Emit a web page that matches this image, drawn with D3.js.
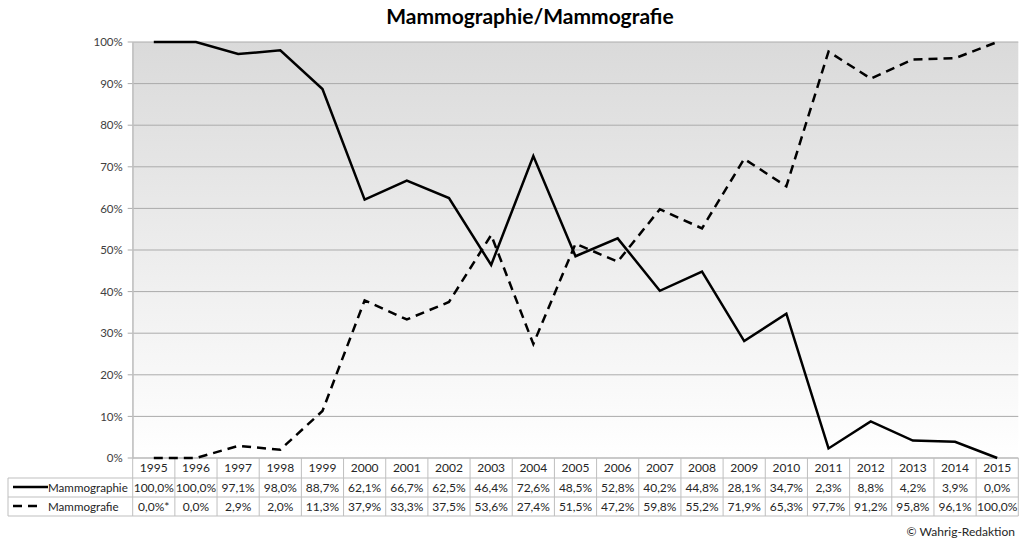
<!DOCTYPE html>
<html><head><meta charset="utf-8">
<script src="https://cdn.jsdelivr.net/npm/d3@7"></script>
<style>
body{margin:0;background:#fff;}
svg{display:block;font-family:Lato,"Open Sans",sans-serif;}
</style></head>
<body><svg id="c" width="1023" height="542"></svg>
<script>
const title = "Mammographie/Mammografie";
const years = ["1995","1996","1997","1998","1999","2000","2001","2002","2003","2004","2005","2006","2007","2008","2009","2010","2011","2012","2013","2014","2015"];
const seriesNames = ["Mammographie","Mammografie"];
const mammographie = [100.0,100.0,97.1,98.0,88.7,62.1,66.7,62.5,46.4,72.6,48.5,52.8,40.2,44.8,28.1,34.7,2.3,8.8,4.2,3.9,0.0];
const mammografie = [0.0,0.0,2.9,2.0,11.3,37.9,33.3,37.5,53.6,27.4,51.5,47.2,59.8,55.2,71.9,65.3,97.7,91.2,95.8,96.1,100.0];
const tableLabels1 = ["100,0%","100,0%","97,1%","98,0%","88,7%","62,1%","66,7%","62,5%","46,4%","72,6%","48,5%","52,8%","40,2%","44,8%","28,1%","34,7%","2,3%","8,8%","4,2%","3,9%","0,0%"];
const tableLabels2 = ["0,0%*","0,0%","2,9%","2,0%","11,3%","37,9%","33,3%","37,5%","53,6%","27,4%","51,5%","47,2%","59,8%","55,2%","71,9%","65,3%","97,7%","91,2%","95,8%","96,1%","100,0%"];
const yTicks = [0,10,20,30,40,50,60,70,80,90,100];
const credit = "© Wahrig-Redaktion";

const svg = d3.select("#c");
const L = 132.7, R = 1018.3, T = 42, B = 458;
const x = d3.scaleBand().domain(years).range([L, R]).padding(0);
const y = d3.scaleLinear().domain([0,100]).range([B, T]);

// background gradient
const defs = svg.append("defs");
const g = defs.append("linearGradient").attr("id","bg").attr("x1",0).attr("y1",0).attr("x2",0).attr("y2",1);
g.append("stop").attr("offset","0%").attr("stop-color","#dadada");
g.append("stop").attr("offset","100%").attr("stop-color","#ffffff");
svg.append("rect").attr("x",L).attr("y",T).attr("width",R-L).attr("height",B-T).attr("fill","url(#bg)");

// title
svg.append("text").attr("x",530).attr("y",24).attr("text-anchor","middle")
  .attr("font-size",21).attr("font-weight","bold").attr("fill","#000").text(title);

// gridlines
svg.append("g").selectAll("line").data(yTicks).join("line")
  .attr("x1",L-5).attr("x2",R).attr("y1",d=>y(d)).attr("y2",d=>y(d))
  .attr("stroke","#ababab").attr("stroke-width",1);

// y axis
const yAxis = d3.axisLeft(y).tickValues(yTicks).tickFormat(d=>d+"%").tickSize(0).tickPadding(10);
const ya = svg.append("g").attr("transform",`translate(${L},0)`).call(yAxis);
ya.select(".domain").attr("stroke","#bfbfbf");
ya.selectAll("text").attr("font-size",11.5).attr("fill","#404040").attr("font-family","Lato,sans-serif");

svg.append("line").attr("x1",L).attr("x2",L).attr("y1",T).attr("y2",B).attr("stroke","#bfbfbf");

const cx = d => x(d) + x.bandwidth()/2;

// data table
const tL = 8;
const tg = svg.append("g");
const gridC = "#bfbfbf";
tg.append("line").attr("x1",L).attr("x2",R).attr("y1",B).attr("y2",B).attr("stroke",gridC);
[478,497,516].forEach(yy=>{
  tg.append("line").attr("x1",tL).attr("x2",R).attr("y1",yy).attr("y2",yy).attr("stroke",gridC);
});
const vx = years.map(d=>x(d)).concat([R]);
tg.selectAll("line.v").data(vx).join("line").attr("class","v")
  .attr("x1",d=>d).attr("x2",d=>d).attr("y1",B).attr("y2",516).attr("stroke",gridC);
tg.append("line").attr("x1",tL).attr("x2",tL).attr("y1",478).attr("y2",516).attr("stroke",gridC);

tg.selectAll("text.yr").data(years).join("text").attr("class","yr")
  .attr("x",d=>cx(d)).attr("y",472).attr("text-anchor","middle")
  .attr("font-size",12).attr("fill","#262626").text(d=>d);
tg.selectAll("text.r1").data(tableLabels1).join("text").attr("class","r1")
  .attr("x",(d,i)=>cx(years[i])).attr("y",491.5).attr("text-anchor","middle")
  .attr("font-size",12).attr("fill","#262626").text(d=>d);
tg.selectAll("text.r2").data(tableLabels2).join("text").attr("class","r2")
  .attr("x",(d,i)=>cx(years[i])).attr("y",510.5).attr("text-anchor","middle")
  .attr("font-size",12).attr("fill","#262626").text(d=>d);

// legend keys
tg.append("line").attr("x1",13).attr("x2",48).attr("y1",487).attr("y2",487).attr("stroke","#000").attr("stroke-width",2.5);
tg.append("line").attr("x1",13).attr("x2",40).attr("y1",506).attr("y2",506).attr("stroke","#000").attr("stroke-width",2.5).attr("stroke-dasharray","9,6");
tg.append("text").attr("x",48).attr("y",491.5).attr("font-size",11.6).attr("fill","#262626").text(seriesNames[0]);
tg.append("text").attr("x",48).attr("y",510.5).attr("font-size",11.6).attr("fill","#262626").text(seriesNames[1]);

// lines (drawn last so they sit on top)
const line = d3.line().x((d,i)=>cx(years[i])).y(d=>y(d));
svg.append("path").datum(mammographie).attr("d",line).attr("fill","none")
  .attr("stroke","#000").attr("stroke-width",2.5);
svg.append("path").datum(mammografie).attr("d",line).attr("fill","none")
  .attr("stroke","#000").attr("stroke-width",2.5).attr("stroke-dasharray","9,6");

// credit
svg.append("text").attr("x",1015).attr("y",536).attr("text-anchor","end")
  .attr("font-size",12).attr("fill","#262626").text(credit);
</script></body></html>
